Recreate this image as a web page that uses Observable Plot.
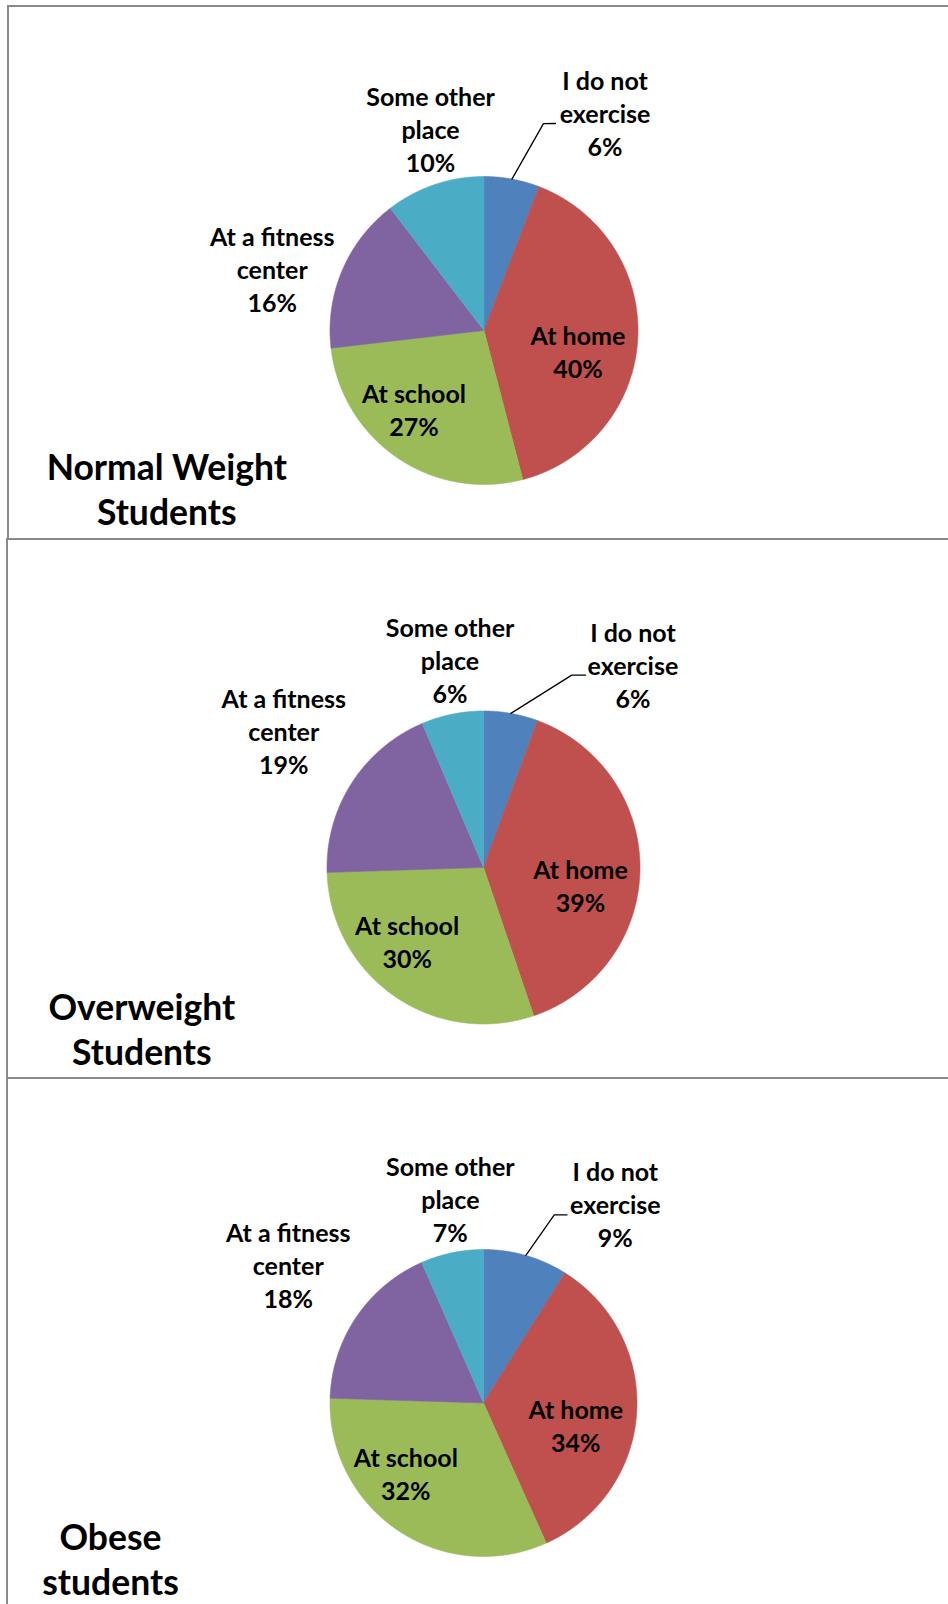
<!DOCTYPE html>
<html><head><meta charset="utf-8">
<script src="https://cdn.jsdelivr.net/npm/d3@7"></script>
<script src="https://cdn.jsdelivr.net/npm/@observablehq/plot@0.6"></script>
<style>
html,body{margin:0;padding:0;background:#fff;width:948px;height:1604px;overflow:hidden;}
#wrap{position:relative;width:948px;height:1604px;overflow:hidden;}
.panel{position:absolute;box-sizing:border-box;border:2px solid #898989;border-right:none;width:1000px;z-index:2;pointer-events:none;}
.chart{position:absolute;left:0;z-index:1;}
</style></head><body><div id="wrap"></div>
<script>
// ---- data (shares in %; labels show them rounded) ----
const categories = ["I do not exercise", "At home", "At school", "At a fitness center", "Some other place"];
const categoryLabels = ["I do not\nexercise", "At home", "At school", "At a fitness\ncenter", "Some other\nplace"];
const colors = ["#4F81BD", "#C0504D", "#9BBB59", "#8064A2", "#4BACC6"];
const groupTitles = ["Normal Weight\nStudents", "Overweight\nStudents", "Obese\nstudents"];
const normalValues = [5.8, 40.1, 27.2, 16.4, 10.4];
const overweightValues = [5.6, 39.2, 29.7, 19.1, 6.4];
const obeseValues = [8.9, 34.4, 32.2, 17.9, 6.6];
const groupValues = [normalValues, overweightValues, obeseValues];

// ---- layout (pixels for panel placement, label positions in pie radii) ----
const layout = [
  {top: 0, height: 539, cx: 483.5, cy: 330, r: 154,
   labelX: [0.786, 0.610, -0.455, -1.375, -0.347], labelY: [-1.136, 0.307, 0.685, -0.119, -1.026],
   leader: [[0.386, -1.343], [0.464, -1.344]], titleX: -2.060, titleY: 1.265},
  {top: 539, height: 539, cx: 483, cy: 328, r: 156.5,
   labelX: [0.955, 0.620, -0.488, -1.276, -0.214], labelY: [-1.020, 0.285, 0.639, -0.597, -1.054],
   leader: [[0.564, -1.229], [0.652, -1.229]], titleX: -2.183, titleY: 1.265},
  {top: 1078, height: 526, cx: 483, cy: 324.5, r: 153.5,
   labelX: [0.859, 0.601, -0.506, -1.272, -0.216], labelY: [-1.015, 0.316, 0.629, -0.622, -1.052],
   leader: [[0.461, -1.225], [0.544, -1.225]], titleX: -2.430, titleY: 1.250}
];
const panelBoxes = [
  {left: 7, top: 5, height: 535},
  {left: 6, top: 538, height: 541},
  {left: 6, top: 1077, height: 600}
];

const wrap = document.getElementById("wrap");
const FONT = "Lato, 'Open Sans', sans-serif";

groupValues.forEach((values, g) => {
  const L = layout[g];
  const arcs = d3.pie().sort(null).value(d => d)(values);
  const slicePts = [];
  arcs.forEach((a, i) => {
    const cat = categories[i];
    slicePts.push({cat, x: 0, y: 0});
    const steps = Math.max(2, Math.ceil((a.endAngle - a.startAngle) / 0.005));
    for (let k = 0; k <= steps; k++) {
      const t = a.startAngle + (a.endAngle - a.startAngle) * k / steps;
      slicePts.push({cat, x: Math.sin(t), y: -Math.cos(t)});
    }
    slicePts.push({cat, x: 0, y: 0});
  });
  const labels = values.map((v, i) => ({
    text: categoryLabels[i] + "\n" + Math.round(v) + "%",
    x: L.labelX[i], y: L.labelY[i]
  }));
  const mid0 = (arcs[0].startAngle + arcs[0].endAngle) / 2;
  const leaderPts = [
    {x: Math.sin(mid0), y: -Math.cos(mid0)},
    {x: L.leader[0][0], y: L.leader[0][1]},
    {x: L.leader[1][0], y: L.leader[1][1]}
  ];
  const chart = Plot.plot({
    width: 948,
    height: L.height,
    style: {background: "transparent", overflow: "visible"},
    x: {domain: [-1, 1], range: [L.cx - L.r, L.cx + L.r], axis: null},
    y: {domain: [-1, 1], range: [L.cy - L.r, L.cy + L.r], axis: null},
    color: {domain: categories, range: colors},
    marks: [
      Plot.line(slicePts, {x: "x", y: "y", z: "cat", fill: "cat", stroke: "cat", strokeWidth: 0.6}),
      Plot.line(leaderPts, {x: "x", y: "y", stroke: "black", strokeWidth: 1.3}),
      Plot.text(labels, {x: "x", y: "y", text: "text", lineAnchor: "bottom", fontSize: 25, lineHeight: 1.32,
        fontWeight: "bold", fontFamily: FONT, fill: "black"}),
      Plot.text([groupTitles[g]], {x: () => L.titleX, y: () => L.titleY, text: d => d, lineAnchor: "bottom",
        fontSize: 35.5, lineHeight: 1.27, fontWeight: "bold", fontFamily: FONT, fill: "black"})
    ]
  });
  chart.classList.add("chart");
  chart.style.top = L.top + "px";
  wrap.appendChild(chart);
});

panelBoxes.forEach(b => {
  const d = document.createElement("div");
  d.className = "panel";
  d.style.left = b.left + "px";
  d.style.top = b.top + "px";
  d.style.height = b.height + "px";
  wrap.appendChild(d);
});
</script></body></html>
